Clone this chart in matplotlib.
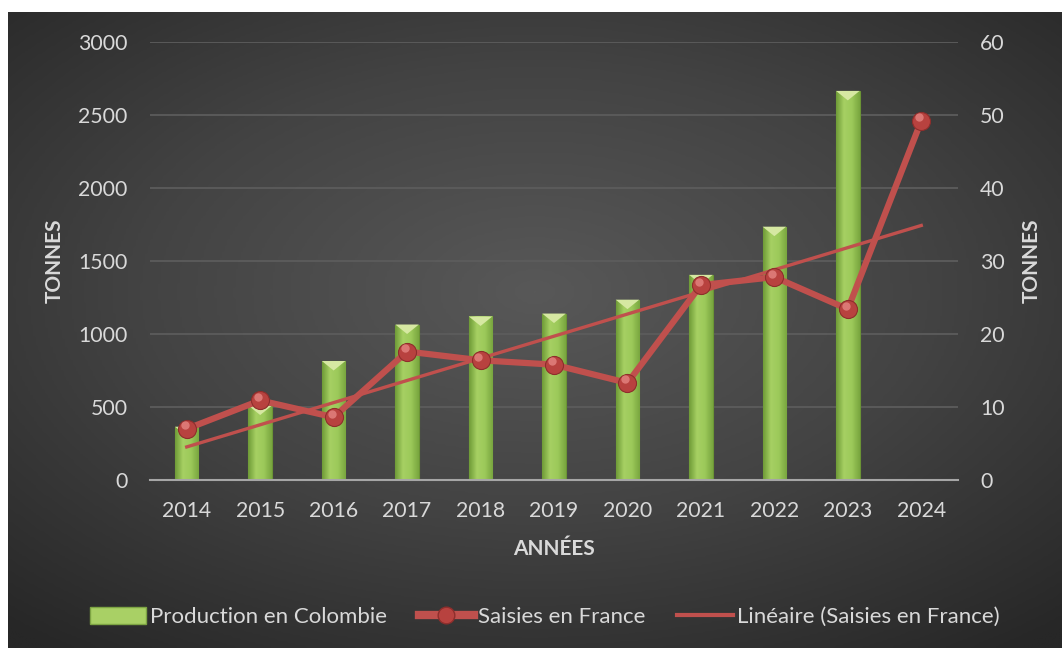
import numpy as np
import matplotlib
matplotlib.use("Agg")
import matplotlib.pyplot as plt
from matplotlib.patches import Patch, Polygon
from matplotlib.lines import Line2D
from matplotlib.colors import LinearSegmentedColormap
import matplotlib.transforms as mtransforms

# Data
years = ["2014", "2015", "2016", "2017", "2018", "2019", "2020", "2021", "2022", "2023", "2024"]
production = [365, 510, 815, 1065, 1120, 1140, 1235, 1405, 1735, 2665, np.nan]
saisies = [7.0, 10.9, 8.6, 17.6, 16.4, 15.8, 13.3, 26.7, 27.8, 23.4, 49.2]

plt.rcParams['font.family'] = ['Lato', 'DejaVu Sans']
txt = '#d9d9d9'
red = '#c0504d'

fig = plt.figure(figsize=(10.62, 6.48), dpi=100, facecolor='white')

# Dark radial background (white margin at top and left like the original)
bg = fig.add_axes([8 / 1062, 0, 1 - 8 / 1062, 1 - 12 / 648], zorder=-10)
gx, gy = np.meshgrid(np.linspace(-1, 1, 400), np.linspace(-1, 1, 300))
r = np.sqrt((gx * 0.9) ** 2 + ((gy + 0.12) * 0.95) ** 2)
bg_cmap = LinearSegmentedColormap.from_list('bg', ['#585858', '#434343', '#272727'])
bg.imshow(r, cmap=bg_cmap, aspect='auto', vmin=0, vmax=1.35, interpolation='bilinear')
bg.set_axis_off()

ax = fig.add_axes([150 / 1062, 1 - 480 / 648, 808 / 1062, 438 / 648])
ax.set_facecolor('none')
x = np.arange(len(years))

# Bars with a soft horizontal gradient and a bevel at the top
bar_w = 0.32
bars = ax.bar(x, production, width=bar_w, color='#95c455', edgecolor='#6b9435',
              linewidth=0.8, zorder=2)
bar_cmap = LinearSegmentedColormap.from_list('bar', ['#6f9b37', '#a6d063', '#9cc95a', '#79a63f'])
grad = np.linspace(0, 1, 64).reshape(1, -1)
bevel_h = 65
for xi, val, patch in zip(x, production, bars.patches):
    if np.isnan(val):
        continue
    x0, x1 = xi - bar_w / 2, xi + bar_w / 2
    im = ax.imshow(grad, extent=[x0, x1, 0, val], aspect='auto', cmap=bar_cmap,
                   zorder=2.1, interpolation='bilinear')
    im.set_clip_path(patch)
    ax.add_patch(Polygon([[x0, val], [x1, val], [xi, val - bevel_h]], closed=True,
                         facecolor='#d6e8a2', edgecolor='none', zorder=2.2))

ax.set_xlim(-0.5, len(years) - 0.5)
ax.set_ylim(0, 3000)
ax.set_yticks(np.arange(0, 3001, 500))
ax.set_xticks(x)
ax.set_xticklabels(years)
ax.grid(axis='y', color='#5c5c5c', linewidth=1.3, zorder=0)
ax.set_axisbelow(True)
for s in ['top', 'left', 'right']:
    ax.spines[s].set_visible(False)
ax.spines['bottom'].set_color('#a6a6a6')
ax.spines['bottom'].set_linewidth(1.5)
ax.tick_params(axis='both', length=0, labelsize=15.3, colors=txt)
ax.tick_params(axis='y', pad=16)
ax.tick_params(axis='x', pad=15)
ax.set_xlabel('ANNÉES', color=txt, fontsize=15, fontweight='bold', labelpad=13)
ax.set_ylabel('TONNES', color=txt, fontsize=15, fontweight='bold', labelpad=10)

# Secondary axis: seizures in France + linear trend
ax2 = ax.twinx()
ax2.set_ylim(0, 60)
ax2.set_yticks(np.arange(0, 61, 10))
for s in ax2.spines.values():
    s.set_visible(False)
ax2.tick_params(axis='y', length=0, labelsize=15.3, colors=txt, pad=16)
ax2.set_ylabel('TONNES', color=txt, fontsize=15, fontweight='bold', labelpad=12)

coef = np.polyfit(x, saisies, 1)
trend = np.polyval(coef, x)
ax2.plot(x, trend, color=red, linewidth=2.4, zorder=3)
ax2.plot(x, saisies, color=red, linewidth=4.5, solid_joinstyle='round', zorder=4,
         marker='o', markersize=13, markerfacecolor='#b8423f', markeredgecolor='#8e2e2c',
         markeredgewidth=0.8)
hl = mtransforms.offset_copy(ax2.transData, fig=fig, x=-1.5, y=2.5, units='points')
ax2.plot(x, saisies, linestyle='none', marker='o', markersize=6, markerfacecolor='#e88a86',
         markeredgecolor='none', alpha=0.75, transform=hl, zorder=5)

handles = [
    Patch(facecolor='#a9d065', edgecolor='#7da443'),
    Line2D([], [], color=red, linewidth=6, marker='o', markersize=12,
           markerfacecolor='#b8423f', markeredgecolor='#8e2e2c'),
    Line2D([], [], color=red, linewidth=3),
]
labels = ['Production en Colombie', 'Saisies en France', 'Linéaire (Saisies en France)']
fig.legend(handles, labels, loc='center', bbox_to_anchor=(545 / 1062, 1 - 617 / 648), ncol=3,
           frameon=False, fontsize=16, labelcolor=txt, handlelength=2.5, handleheight=0.8,
           handletextpad=0.2, columnspacing=1.4)

fig.savefig('out.png', dpi=100, facecolor='white')
